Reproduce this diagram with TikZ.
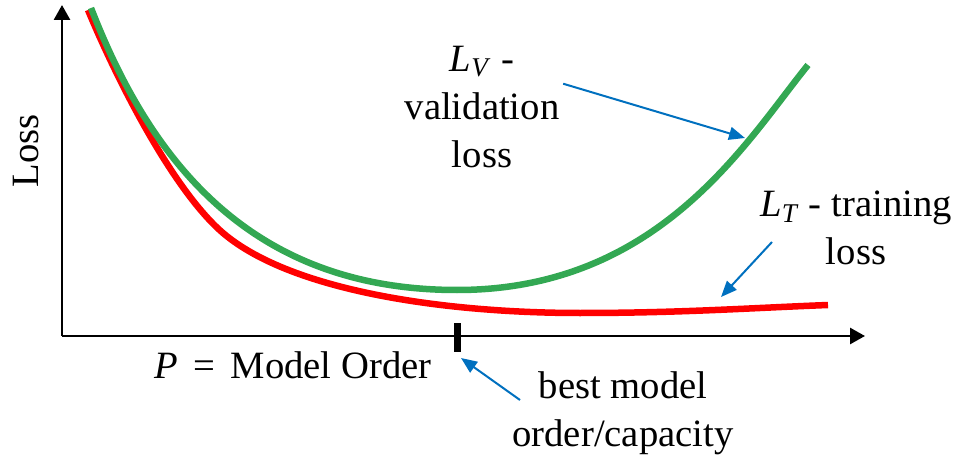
\documentclass[tikz,border=0pt]{standalone}
\usepackage{fontspec}
\setmainfont{Liberation Serif}
\usepackage{tikz}
\usetikzlibrary{
  arrows.meta,%
  positioning
}
\definecolor{arrowblue}{rgb}{0, 0.44, 0.75}
\definecolor{validgreen}{RGB}{51, 168, 83}
\tikzset{>={Triangle[length=3mm, width=3.2mm]}}
\tikzset{font=\fontsize{22}{27.3}\selectfont}
\tikzset{axisline/.style={->, line width=0.55mm}}
\tikzset{lossline/.style={line width=1.3mm}}
\tikzset{pointer/.style={-{Triangle[length=3.2mm, width=2.6mm]},
    line width=0.4mm, arrowblue}}

\begin{document}
\begin{tikzpicture}[x=0.2mm, y=-0.2mm]
  \useasboundingbox (0,0) rectangle (961,457);
  % axes
  \coordinate (origin) at (62,336);
  \coordinate (ytop) at (62,5);
  \coordinate (xend) at (865,336);
  \draw[axisline] (origin) -- (ytop);
  \draw[axisline] (origin) -- (xend);
  \node[rotate=90, anchor=base] (losslabel) at (38,151) {Loss};
  \node[anchor=base] (porder) at (293,378)
    {\textit{P}\hspace{0.4em}=\hspace{0.4em}Model Order};
  % best order mark
  \draw[line width=1.5mm] (457.5,323) -- (457.5,352);
  % training loss
  \draw[lossline, red] (88,10) .. controls (118,82) and (173,190) .. (223,233)
    .. controls (293,292.5) and (450,313) .. (580,313)
    .. controls (680,313) and (750,308) .. (828,305);
  % validation loss
  \draw[lossline, validgreen] (91,8) .. controls (150,160) and (250,290) .. (457,290)
    .. controls (660,290) and (747,140) .. (808,65);
  % labels and pointers
  \node[align=center, inner sep=2pt] (lv) at (482,107)
    {\textit{L}\textsubscript{\textit{V}} -\\validation\\loss};
  \node[align=center] (lt) at (856,228)
    {\textit{L}\textsubscript{\textit{T}} - training\\loss};
  \node[align=center] (best) at (623,413)
    {best model\\order/capacity};
  \coordinate (vtip) at (745,138);
  \draw[pointer] (lv.16) -- (vtip);
  \coordinate (tstart) at (772,242);
  \coordinate (ttip) at (721,297);
  \draw[pointer] (tstart) -- (ttip);
  \coordinate (bstart) at (520,400);
  \coordinate (btip) at (461,358);
  \draw[pointer] (bstart) -- (btip);
\end{tikzpicture}
\end{document}
